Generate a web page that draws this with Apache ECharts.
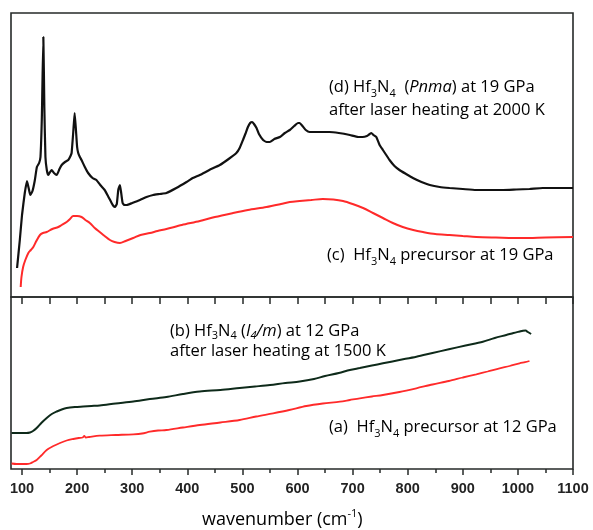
<!DOCTYPE html>
<html>
<head>
<meta charset="utf-8">
<script src="https://cdn.jsdelivr.net/npm/echarts@6/dist/echarts.min.js"></script>
<style>html,body{margin:0;padding:0;background:#fff}#c{width:593px;height:530px}</style>
</head>
<body>
<div id="c"></div>
<script>
// ---- tick labels ----
const wavenumberTicks = [100, 200, 300, 400, 500, 600, 700, 800, 900, 1000, 1100];
const minorTicks = [150, 250, 350, 450, 550, 650, 750, 850, 950, 1050];
const topTicks = [100, 150, 200, 250, 300, 350, 400, 450, 500, 550, 600, 650, 700, 750, 800, 850, 900, 950, 1000, 1050, 1100];

// ---- spectra: [wavenumber (cm-1), intensity (arb. units, offset)] ----
// (d) Hf3N4 (Pnma) at 19 GPa after laser heating at 2000 K
const spectrumD = [
  [91,29],[96,57],[100,82],[105,104],[109,116],[112,109],[115,102],[119,106],[123,116],[127,130],
  [131,134],[133.5,140],[136,180],[138.7,260],[140.5,190],[142.5,140],[145,127],[147.7,122],[151,125],
  [153.8,127],[158,124],[163,122],[168,128],[172,132],[178,135],[184,137],[188,141],[190,144],
  [193,165],[195.5,184],[198,166],[200,150],[202,144],[205,140],[208,137],[214,130],[220,124],
  [228,119],[235,117],[242,112],[250,107],[256,101],[262.6,94],[266,91],[268.6,90],[272,93],
  [274.7,107],[277.7,112],[280,104],[282.6,94],[286,92],[290,92],[300,94],[314,97],[326,100],
  [338,102],[350,103],[362,104],[380,109],[398.6,115],[410,119],[422.7,122],[440,127],[459,132],
  [475,138],[489,144],[495,149],[501,157],[506,164],[510,170],[514,174],[517.6,175],[521,173],
  [525.6,169],[530,163],[537.6,157],[544,155],[549.7,155],[558,158],[568,160],[577,164],
  [586,167],[594,171],[601,174],[604,174],[609,171],[615,167],[622,165],[627,165],[640,165],
  [658,165],[675,164],[695,162],[710,160],[718,160],[726,161],[731,163],[734,164],[738,162],
  [743,160],[749,152],[755,147],[761,142],[767,137],[776,131],[785,127],[797,123],[809.5,119],
  [825,115],[840,112],[858,110],[876,109],[900,108],[924,107],[950,107],[973,107],[997,107.5],
  [1021,108],[1045,109],[1069.5,109],[1085,109],[1100,109]
];
// (c) Hf3N4 precursor at 19 GPa
const spectrumC = [
  [97.6,10],[99,20],[102,30],[106,37],[111.5,44],[116,47],[120.5,50],[126,56],[132.6,62],
  [138,64],[144.7,65],[155,68],[165.8,70],[172,72],[181,75],[187,78],[193,81],[200,81],
  [208,80],[215,77],[223,74],[232,69],[241,65],[250,61],[259.6,57],[268,55],[277.7,54],
  [288,56],[301.8,59],[315,62],[332,64],[346,66],[362,68],[390,72],[422.7,76],[450,80],
  [483,84],[510,87],[543.7,90],[570,93],[586,95],[604,96],[625,97],[646,98],[665,97.5],
  [682.7,96],[700,93],[719,89],[737,84],[755,79],[773,74],[791,70],[810,67],[827.7,65],
  [850,63],[876,62],[900,61],[924.5,60],[960,59.5],[1009,59],[1050,59.5],[1100,60]
];
// (b) Hf3N4 (I4/m) at 12 GPa after laser heating at 1500 K
const spectrumB = [
  [81,36],[90,36],[100,36],[108,36],[114.5,36.5],[120,38],[126.6,41],[135,46],[144.8,51],
  [154,55],[163,57.5],[172,59.5],[181,61],[196,62],[211,62.5],[226,63],[241,63.5],[270,65.5],
  [302,67.5],[332,70],[362,72],[392,75],[422.7,77.5],[460,79],[495,81],[523,82.5],[550,84],
  [578,86],[604,87.5],[630,90],[650,93],[675,96],[695,99],[713,101],[735,103.5],[755,105.7],
  [785,109],[815.7,112.3],[845,116],[874.7,119.7],[905,123.5],[936.4,127.3],[958,131],
  [978.9,134],[992,136],[1003,137.5],[1009,138.3],[1014,138.5],[1018,137],[1024,135]
];
// (a) Hf3N4 precursor at 12 GPa
const spectrumA = [
  [81,5.5],[90,5],[100,5],[108,5],[114.5,5.5],[120,7],[126.6,9],[135,13.5],[144.8,19],
  [157,23],[169,26],[181,28.5],[193,30],[203,31],[210,31.5],[213,33],[216,31.5],[222,32],
  [241,33.3],[270,34],[302,34.7],[318,35.5],[332,37.3],[347,38.5],[362,39],[392,41.5],
  [422.7,44],[460,46.5],[495,49],[525,52.5],[555.7,55.7],[585,59],[616,63],[646,65.5],
  [677,67.3],[695,69],[713,70.7],[735,72.5],[755,74],[785,77],[815.7,80.7],[845,84.5],
  [874.7,88],[900,91.5],[924.5,94.7],[945,97.5],[966.7,100.7],[985,103],[1003,105.7],
  [1013,106.8],[1021,108]
];

const chart = echarts.init(document.getElementById('c'), null, {renderer: 'canvas'});
const frameColor = '#262a28';
const textColor = '#232323';
const txtFont = 'Open Sans';
const FS = 16.5;

function richStyles(lh, subLh) {
  return {
    n: {fontFamily: txtFont, fontSize: FS, color: textColor, lineHeight: lh},
    i: {fontFamily: txtFont, fontSize: FS, color: textColor, lineHeight: lh, fontStyle: 'italic'},
    s: {fontFamily: txtFont, fontSize: 11, color: textColor, lineHeight: subLh, verticalAlign: 'bottom'},
    si: {fontFamily: txtFont, fontSize: 11, color: textColor, lineHeight: subLh, verticalAlign: 'bottom', fontStyle: 'italic'}
  };
}

const hiddenY = {
  type: 'value', show: false, splitLine: {show: false}
};

chart.setOption({
  animation: false,
  backgroundColor: '#ffffff',
  grid: [
    {left: 11, right: 20, top: 13, height: 284, show: true, borderColor: frameColor, borderWidth: 1.6, backgroundColor: 'transparent'},
    {left: 11, right: 20, top: 297, height: 172, show: true, borderColor: frameColor, borderWidth: 1.6, backgroundColor: 'transparent'}
  ],
  xAxis: [
    {
      type: 'value', gridIndex: 0, min: 80, max: 1100, position: 'top',
      axisLine: {show: false},
      axisTick: {show: true, inside: true, length: 7, customValues: topTicks, lineStyle: {color: frameColor, width: 1.5}},
      axisLabel: {show: false},
      splitLine: {show: false}
    },
    {
      type: 'value', gridIndex: 1, min: 80, max: 1100, position: 'bottom',
      axisLine: {show: false},
      axisTick: {show: true, inside: false, length: 6, customValues: wavenumberTicks, lineStyle: {color: frameColor, width: 1.5}},
      axisLabel: {show: true, customValues: wavenumberTicks, margin: 12, formatter: v => String(v),
        fontFamily: 'Liberation Sans', fontWeight: 'bold', fontSize: 14.5, color: textColor},
      splitLine: {show: false}
    },
    {
      type: 'value', gridIndex: 1, min: 80, max: 1100, position: 'bottom',
      axisLine: {show: false},
      axisTick: {show: true, inside: false, length: 4, customValues: minorTicks, lineStyle: {color: frameColor, width: 1.5}},
      axisLabel: {show: false},
      splitLine: {show: false}
    }
  ],
  yAxis: [
    Object.assign({gridIndex: 0, min: 0, max: 284}, hiddenY),
    Object.assign({gridIndex: 1, min: 0, max: 172}, hiddenY)
  ],
  series: [
    {name: '(d)', type: 'line', xAxisIndex: 0, yAxisIndex: 0, data: spectrumD, showSymbol: false, smooth: 0.15,
     lineStyle: {color: '#111111', width: 2.2}, z: 3},
    {name: '(c)', type: 'line', xAxisIndex: 0, yAxisIndex: 0, data: spectrumC, showSymbol: false, smooth: 0.3,
     lineStyle: {color: '#ff2a2a', width: 2}, z: 2},
    {name: '(b)', type: 'line', xAxisIndex: 1, yAxisIndex: 1, data: spectrumB, showSymbol: false, smooth: 0.3,
     lineStyle: {color: '#0e2a1a', width: 2}, z: 3},
    {name: '(a)', type: 'line', xAxisIndex: 1, yAxisIndex: 1, data: spectrumA, showSymbol: false, smooth: 0.3,
     lineStyle: {color: '#ff2a2a', width: 1.8}, z: 2}
  ],
  graphic: [
    {type: 'text', left: 329, top: 79, style: {
      text: '{n|(d) Hf}{s|3}{n|N}{s|4}{n|  (}{i|Pnma}{n|) at 19 GPa}\n{n|after laser heating at 2000 K}',
      rich: richStyles(23, 12)}},
    {type: 'text', left: 327, top: 247, style: {
      text: '{n|(c)  Hf}{s|3}{n|N}{s|4}{n| precursor at 19 GPa}',
      rich: richStyles(23, 12)}},
    {type: 'text', left: 170, top: 323, style: {
      text: '{n|(b) Hf}{s|3}{n|N}{s|4}{n| (}{i|I}{si|4}{i|/m}{n|) at 12 GPa}\n{n|after laser heating at 1500 K}',
      rich: richStyles(19.5, 8.5)}},
    {type: 'text', left: 329, top: 419, style: {
      text: '{n|(a)  Hf}{s|3}{n|N}{s|4}{n| precursor at 12 GPa}',
      rich: richStyles(23, 12)}},
    {type: 'text', left: 202, top: 508, style: {
      text: '{t|wavenumber (cm}{sup|-1}{t|)}',
      rich: {
        t: {fontFamily: txtFont, fontSize: 18, color: textColor, lineHeight: 24},
        sup: {fontFamily: txtFont, fontSize: 11, color: textColor, lineHeight: 16, verticalAlign: 'top'}
      }}}
  ]
});
</script>
</body>
</html>
